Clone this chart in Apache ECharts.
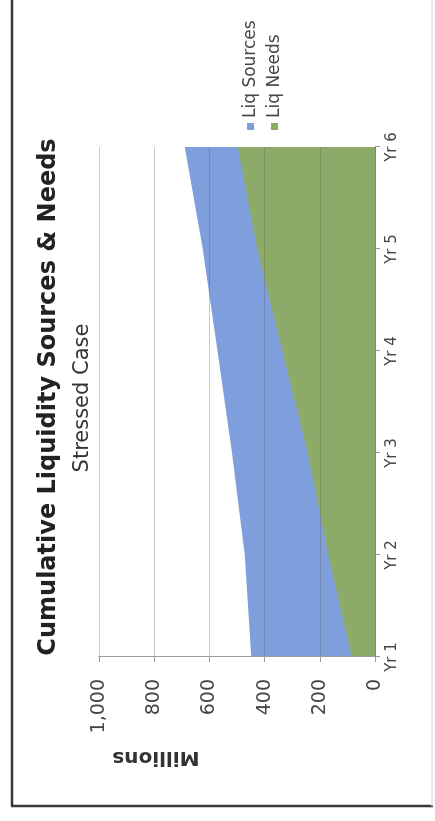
<!DOCTYPE html>
<html>
<head>
<meta charset="utf-8">
<script src="https://cdn.jsdelivr.net/npm/echarts@6/dist/echarts.min.js"></script>
<style>
  html, body { margin: 0; padding: 0; background: #fff; }
  body { width: 435px; height: 821px; overflow: hidden; position: relative; }
  /* The chart is laid out landscape and turned a quarter turn counter-clockwise */
  #chart {
    position: absolute; left: 0; top: 0;
    width: 821px; height: 435px;
    transform-origin: 0 0;
    transform: translate(0, 821px) rotate(-90deg);
  }
</style>
</head>
<body>
<div id="chart"></div>
<script>
// Cumulative liquidity, stressed case (millions)
const years = ['Yr 1', 'Yr 2', 'Yr 3', 'Yr 4', 'Yr 5', 'Yr 6'];
const liqSources = [448, 472, 518, 571, 624, 689];
const liqNeeds = [84, 169, 244, 336, 427, 497];
const valueTicks = { min: 0, max: 1000, step: 200 };

const FONT = 'DejaVu Sans';
const chart = echarts.init(document.getElementById('chart'), null, { renderer: 'canvas' });

chart.setOption({
  animation: false,
  backgroundColor: '#ffffff',
  title: [
    {
      text: 'Cumulative Liquidity Sources & Needs',
      left: 419, top: 32, textAlign: 'center',
      textStyle: { fontFamily: FONT, fontSize: 24, fontWeight: 'bold', color: '#222' }
    },
    {
      text: 'Stressed Case',
      left: 418, top: 67, textAlign: 'center',
      textStyle: { fontFamily: FONT, fontSize: 21, fontWeight: 'normal', color: '#333' }
    }
  ],
  legend: {
    orient: 'vertical',
    left: 686, top: 237,
    icon: 'rect', itemWidth: 7, itemHeight: 7, itemGap: 7,
    textStyle: { fontFamily: FONT, fontSize: 17, color: '#444' },
    data: ['Liq Sources', 'Liq Needs']
  },
  grid: { left: 164, right: 147, top: 99, bottom: 60 },
  xAxis: {
    type: 'category',
    data: years,
    boundaryGap: false,
    axisLine: { lineStyle: { color: '#9a9a9a', width: 1 } },
    axisTick: { show: true, length: 5, lineStyle: { color: '#9a9a9a' } },
    axisLabel: { margin: 10, fontFamily: FONT, fontSize: 15, color: '#444' }
  },
  yAxis: {
    type: 'value',
    min: valueTicks.min, max: valueTicks.max, interval: valueTicks.step,
    z: 5,
    axisLine: { show: true, lineStyle: { color: '#9a9a9a', width: 1 } },
    axisTick: { show: true, length: 5, lineStyle: { color: '#9a9a9a' } },
    axisLabel: {
      margin: 22, fontFamily: FONT, fontSize: 19, color: '#444',
      formatter: v => v.toLocaleString('en-US')
    },
    splitLine: { lineStyle: { color: 'rgba(80,80,80,0.3)', width: 1 } }
  },
  series: [
    {
      name: 'Liq Sources', type: 'line', data: liqSources,
      symbol: 'none', lineStyle: { width: 0 },
      itemStyle: { color: '#7e9fdb' },
      areaStyle: { color: '#7e9fdb', opacity: 1 }
    },
    {
      name: 'Liq Needs', type: 'line', data: liqNeeds,
      symbol: 'none', lineStyle: { width: 0 },
      itemStyle: { color: '#8dab68' },
      areaStyle: { color: '#8dab68', opacity: 1 }
    }
  ],
  graphic: [
    // axis caption
    {
      type: 'text', x: 64, y: 156, rotation: Math.PI / 2,
      style: {
        text: 'Millions', fontFamily: FONT, fontSize: 20, fontWeight: 'bold',
        fill: '#333', align: 'center', verticalAlign: 'middle'
      }
    },
    // chart frame
    { type: 'line', shape: { x1: 15, y1: 12, x2: 821, y2: 12 }, style: { stroke: '#3a3a3a', lineWidth: 2.5 } },
    { type: 'line', shape: { x1: 15, y1: 11, x2: 15, y2: 433 }, style: { stroke: '#3a3a3a', lineWidth: 2.5 } },
    { type: 'line', shape: { x1: 15, y1: 432, x2: 821, y2: 432 }, style: { stroke: '#e2e2e2', lineWidth: 1.5 } }
  ]
});
</script>
</body>
</html>
